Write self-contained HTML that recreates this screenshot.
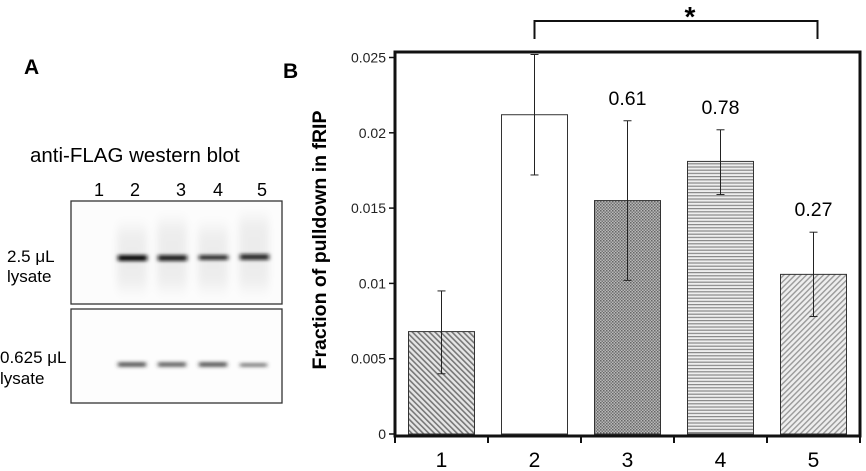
<!DOCTYPE html>
<html><head><meta charset="utf-8"><style>
html,body{margin:0;padding:0;background:#fff;}
svg{display:block;font-family:"Liberation Sans",Arial,sans-serif;}
</style></head><body>
<svg id="fig" width="866" height="471" viewBox="0 0 866 471" xmlns="http://www.w3.org/2000/svg">
<defs>
  <filter id="blur" x="-50%" y="-200%" width="200%" height="500%"><feGaussianBlur stdDeviation="2.2 1.6"/></filter>
  <filter id="blur2" x="-50%" y="-100%" width="200%" height="300%"><feGaussianBlur stdDeviation="4 8"/></filter>
  <pattern id="p1" patternUnits="userSpaceOnUse" width="4" height="4" patternTransform="rotate(-45)"><rect width="4" height="4" fill="#e6e6e6"/><rect width="1.6" height="4" fill="#777"/></pattern>
  <pattern id="p3" patternUnits="userSpaceOnUse" width="3" height="3"><rect width="3" height="3" fill="#b8b8b8"/><rect width="1.5" height="1.5" fill="#666"/><rect x="1.5" y="1.5" width="1.5" height="1.5" fill="#777"/></pattern>
  <pattern id="p4" patternUnits="userSpaceOnUse" width="4" height="3.2"><rect width="4" height="3.2" fill="#eee"/><rect width="4" height="1.2" fill="#888"/></pattern>
  <pattern id="p5" patternUnits="userSpaceOnUse" width="4" height="4" patternTransform="rotate(45)"><rect width="4" height="4" fill="#eee"/><rect width="1.4" height="4" fill="#999"/></pattern>
</defs>

<!-- Panel A -->
<text x="24" y="74" font-size="21" font-weight="bold">A</text>
<text x="30" y="162" font-size="20.5">anti-FLAG western blot</text>
<g font-size="18" text-anchor="middle">
  <text x="99" y="196">1</text><text x="135" y="196">2</text><text x="181" y="196">3</text><text x="218" y="196">4</text><text x="262" y="196">5</text>
</g>
<g>
  <rect x="71" y="201" width="211" height="103" fill="#fcfcfc" stroke="#333" stroke-width="1.3"/>
  <g filter="url(#blur2)" opacity="0.06" fill="#000">
    <rect x="117" y="228" width="30" height="60"/><rect x="157" y="222" width="30" height="66"/><rect x="198" y="228" width="30" height="60"/><rect x="239" y="218" width="30" height="70"/>
  </g>
  <g filter="url(#blur)" fill="#111">
    <rect x="118" y="255" width="29" height="6" opacity="1"/><rect x="158" y="255" width="29" height="6" opacity="0.9"/><rect x="199" y="255" width="29" height="5" opacity="0.85"/><rect x="240" y="254" width="29" height="6" opacity="0.85"/>
  </g>
</g>
<g>
  <rect x="71" y="309" width="211" height="94" fill="#fdfdfd" stroke="#333" stroke-width="1.3"/>
  <g filter="url(#blur)" fill="#333">
    <rect x="118" y="362" width="28" height="5" opacity="0.75"/><rect x="158" y="362" width="28" height="5" opacity="0.7"/><rect x="199" y="362" width="28" height="5" opacity="0.75"/><rect x="240" y="363" width="27" height="4" opacity="0.6"/>
  </g>
</g>
<g font-size="17">
  <text x="7" y="262">2.5 μL</text><text x="7" y="282">lysate</text>
  <text x="0" y="363">0.625 μL</text><text x="0" y="384">lysate</text>
</g>

<!-- Panel B -->
<text x="283" y="78" font-size="21" font-weight="bold">B</text>
<g id="chart"></g>
</svg>
<script>
const categories = ["1","2","3","4","5"];
const values = [0.0068, 0.0212, 0.0155, 0.0181, 0.0106];
const errLow = [0.0040, 0.0172, 0.0102, 0.0159, 0.0078];
const errHigh = [0.0095, 0.0252, 0.0208, 0.0202, 0.0134];
const ratioLabels = ["", "", "0.61", "0.78", "0.27"];
const yTicks = [0, 0.005, 0.01, 0.015, 0.02, 0.025];
const yTickLabels = ["0","0.005","0.01","0.015","0.02","0.025"];
const fills = ["url(#p1)","#fff","url(#p3)","url(#p4)","url(#p5)"];

const NS = "http://www.w3.org/2000/svg";
const g = document.getElementById("chart");
const L = 395, R = 860, T = 52, B = 434;
const y = v => B - v / 0.025 * (B - 57.5);
const band = (R - L) / categories.length;
const x = i => L + band * (i + 0.5);
const bw = 66;
function mk(tag, attrs, parent) {
  const e = document.createElementNS(NS, tag);
  for (const k in attrs) e.setAttribute(k, attrs[k]);
  (parent || g).appendChild(e);
  return e;
}
categories.forEach((c, i) => {
  const r = mk("rect", {x: x(i) - bw/2, y: y(values[i]), width: bw, height: B - y(values[i]), fill: fills[i], stroke: "#333", "stroke-width": 1});
  
  
  const eg = mk("g", {stroke: "#222", "stroke-width": 1});
  
  
  mk("line", {x1: x(i), x2: x(i), y1: y(errLow[i]), y2: y(errHigh[i])}, eg);
  mk("line", {x1: x(i) - 4, x2: x(i) + 4, y1: y(errLow[i]), y2: y(errLow[i])}, eg);
  mk("line", {x1: x(i) - 4, x2: x(i) + 4, y1: y(errHigh[i]), y2: y(errHigh[i])}, eg);
  if (ratioLabels[i]) {
    const t = mk("text", {x: x(i), y: y(errHigh[i]) - 16, "font-size": 19.5, "text-anchor": "middle"});
    t.textContent = ratioLabels[i];
    
    
  }
  const xl = mk("text", {x: x(i), y: 467, "font-size": 21, "text-anchor": "middle"});
  xl.textContent = c;
  
  
});
const fr = mk("rect", {x: L, y: T, width: R - L, height: B + 2 - T, fill: "none", stroke: "#111", "stroke-width": 3});


yTicks.forEach((v, i) => {
  mk("line", {x1: L - 6, x2: L, y1: y(v), y2: y(v), stroke: "#111", "stroke-width": 1.5});
  const t = mk("text", {x: L - 9, y: y(v) + 5, "font-size": 14, "text-anchor": "end", fill: "#222"});
  t.textContent = yTickLabels[i];
  
  
});
for (let i = 0; i <= categories.length; i++) {
  mk("line", {x1: L + band * i, x2: L + band * i, y1: B + 2, y2: B + 9, stroke: "#111", "stroke-width": 2});
}
const yt = mk("text", {x: 0, y: 0, "font-size": 19.5, "font-weight": "bold", "text-anchor": "middle", transform: "translate(326,240) rotate(-90)"});
yt.textContent = "Fraction of pulldown in fRIP";


const br = mk("path", {d: `M${x(1)} 39 V21 H${x(4)+4} V39`, fill: "none", stroke: "#111", "stroke-width": 2});


const st = mk("text", {x: 690, y: 26, "font-size": 28, "font-weight": "bold", "text-anchor": "middle"});
st.textContent = "*";


</script>
</body></html>
